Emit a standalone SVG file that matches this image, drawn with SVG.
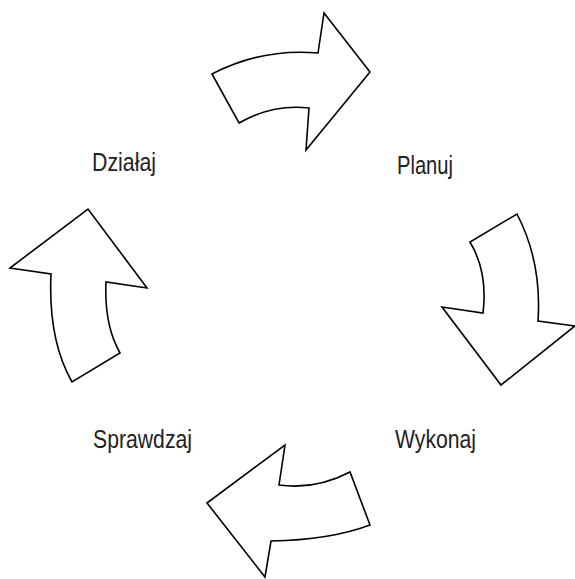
<svg xmlns="http://www.w3.org/2000/svg" width="575" height="579" viewBox="0 0 575 579">
<style>
.arr{fill:#fff;stroke:#000;stroke-width:1.6;stroke-linejoin:miter}
.lbl{font-family:"Liberation Sans Narrow","Liberation Sans",Arial,sans-serif;font-size:25px;fill:#222}
</style>
<rect width="575" height="579" fill="#fff"/>
<g id="connectors">
<path id="arrow-top" class="arr" d="M212,74 Q262,48 318,53 L324,13 L370,72 L306,150 L309,108 Q272,104 239,123 Z"/>
<path id="arrow-right" class="arr" d="M517,214 Q542,262 538,321 L575,326 L501,385 L442,307 L483,313 Q488,272 470,242 Z"/>
<path id="arrow-bottom" class="arr" d="M350,472 Q316,490 279,485 L285,445 L207,503 L265,577 L271,541 Q330,540 370,525 Z"/>
<path id="arrow-left" class="arr" d="M72,382 Q48,340 51,274 L10,268 L88,209 L147,288 L106,282 Q104,325 120,353 Z"/>
</g>
<g id="node-dzialaj"><text class="lbl" x="92" y="171" textLength="64" lengthAdjust="spacingAndGlyphs">Działaj</text></g>
<g id="node-planuj"><text class="lbl" x="397" y="174" textLength="56" lengthAdjust="spacingAndGlyphs">Planuj</text></g>
<g id="node-wykonaj"><text class="lbl" x="395" y="448" textLength="81" lengthAdjust="spacingAndGlyphs">Wykonaj</text></g>
<g id="node-sprawdzaj"><text class="lbl" x="93" y="448" textLength="99" lengthAdjust="spacingAndGlyphs">Sprawdzaj</text></g>
</svg>
